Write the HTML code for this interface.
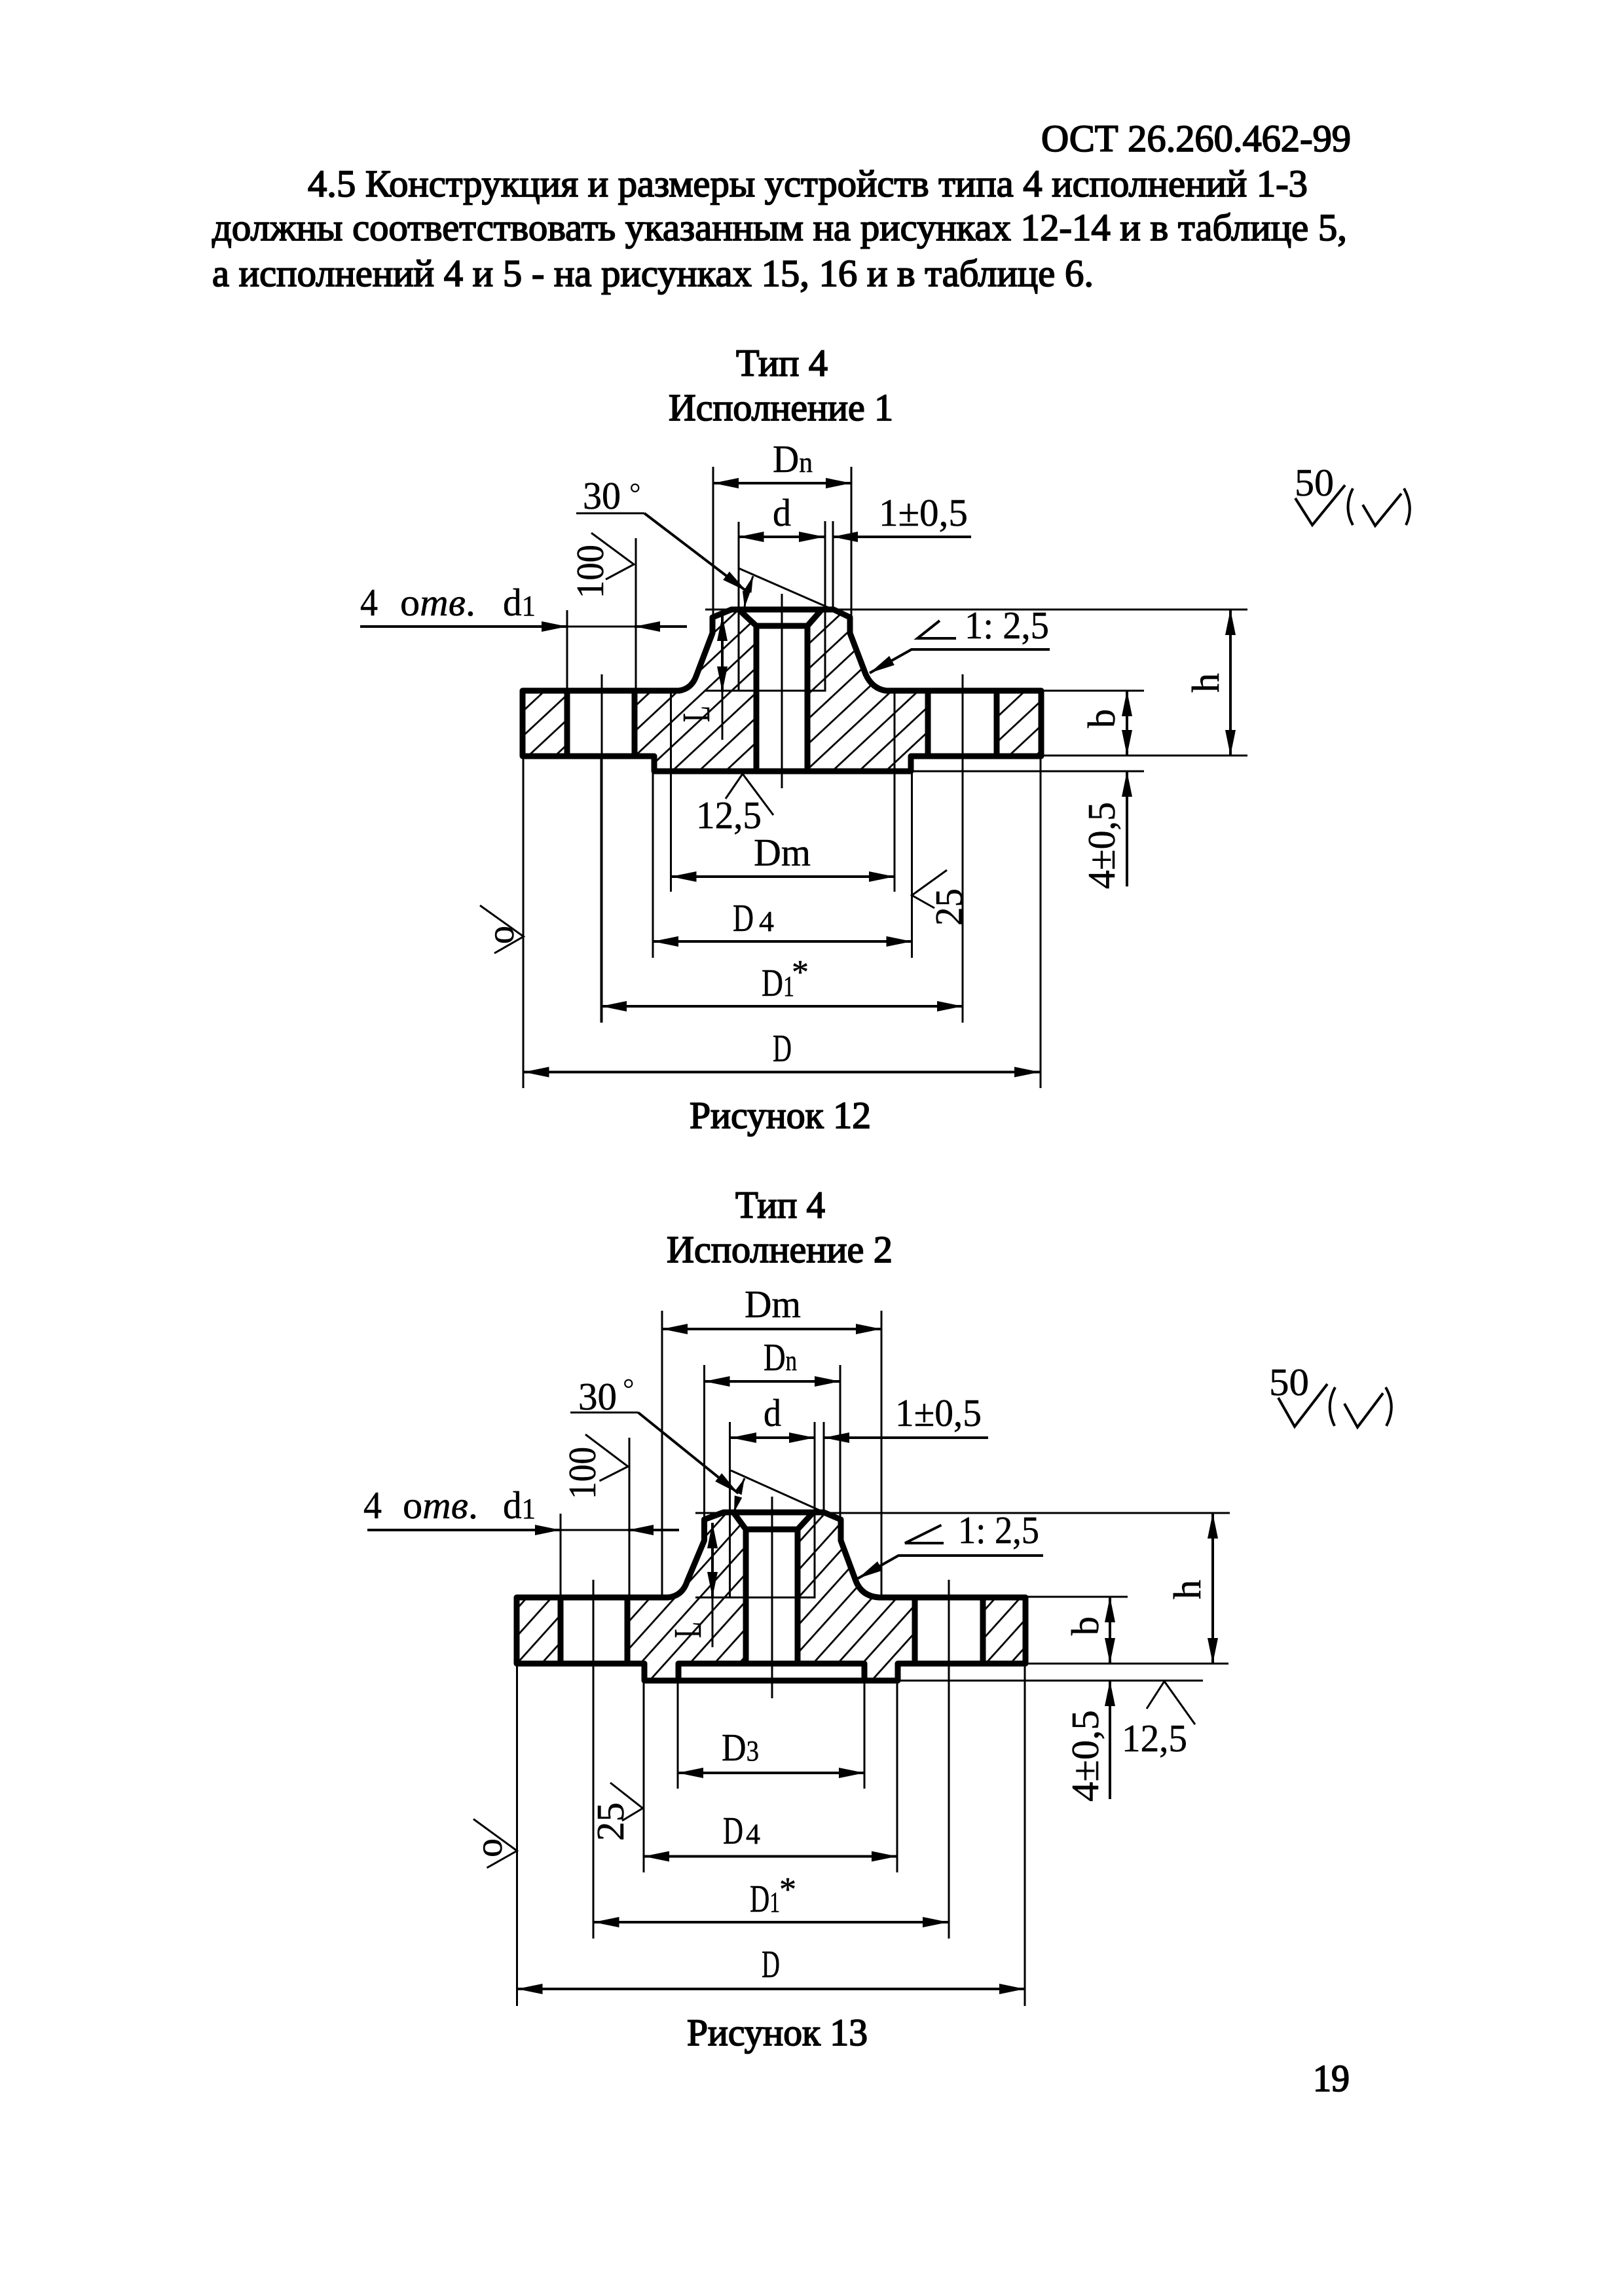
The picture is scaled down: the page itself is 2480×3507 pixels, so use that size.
<!DOCTYPE html>
<html lang="ru"><head><meta charset="utf-8"><title>ОСТ 26.260.462-99</title>
<style>
html,body{margin:0;padding:0;background:#fff}
svg{display:block}
text{font-family:"Liberation Serif",serif;fill:#000}
.b{font-size:58.5px;stroke:#000;stroke-width:1.8px}
.c{font-size:59px;stroke:#000;stroke-width:.5px}
.s{font-size:44px}
.k{font-size:52px;stroke:#000;stroke-width:.5px}
.o{fill:none;stroke:#000;stroke-width:9;stroke-linejoin:round}
.t{fill:none;stroke:#000;stroke-width:3}
.u{fill:none;stroke:#000;stroke-width:4}
.d{fill:none;stroke:#000;stroke-width:4;marker-start:url(#a);marker-end:url(#a)}
.e{fill:none;stroke:#000;stroke-width:4;marker-end:url(#a)}
.f{fill:none;stroke:#000;stroke-width:3;marker-end:url(#a2)}
</style></head><body>
<svg xmlns="http://www.w3.org/2000/svg" width="2480" height="3507" viewBox="0 0 2480 3507">
<defs>
<marker id="a" markerUnits="userSpaceOnUse" markerWidth="40" markerHeight="18" refX="39" refY="9" orient="auto-start-reverse"><path d="M0 1L39 9L0 17Z"/></marker>
<marker id="a2" markerUnits="userSpaceOnUse" markerWidth="26" markerHeight="14" refX="25" refY="6" orient="auto-start-reverse"><path d="M0 0L25 6L0 12Z"/></marker>
<pattern id="h1" patternUnits="userSpaceOnUse" width="100" height="27.8" patternTransform="translate(1155 980) rotate(-43)"><rect width="100" height="2.8"/></pattern>
<pattern id="h2" patternUnits="userSpaceOnUse" width="100" height="28" patternTransform="translate(1137 2362) rotate(-48)"><rect width="100" height="2.8"/></pattern>
</defs>
<rect width="2480" height="3507" fill="#fff"/>

<!-- body text -->
<text class="b" x="1590" y="231" textLength="473" lengthAdjust="spacingAndGlyphs">ОСТ 26.260.462-99</text>
<text class="b" x="470" y="300" textLength="1527" lengthAdjust="spacingAndGlyphs">4.5 Конструкция и размеры устройств типа 4 исполнений 1-3</text>
<text class="b" x="324" y="367" textLength="1733" lengthAdjust="spacingAndGlyphs">должны соответствовать указанным на рисунках 12-14 и в таблице 5,</text>
<text class="b" x="324" y="437" textLength="1346" lengthAdjust="spacingAndGlyphs">а исполнений 4 и 5 - на рисунках 15, 16 и в таблице 6.</text>
<text class="b" x="1124" y="574" textLength="140" lengthAdjust="spacingAndGlyphs">Тип 4</text>
<text class="b" x="1021" y="642" textLength="343" lengthAdjust="spacingAndGlyphs">Исполнение 1</text>
<text class="b" x="1053" y="1723" textLength="277" lengthAdjust="spacingAndGlyphs">Рисунок 12</text>
<text class="b" x="1123" y="1860" textLength="137" lengthAdjust="spacingAndGlyphs">Тип 4</text>
<text class="b" x="1018" y="1928" textLength="345" lengthAdjust="spacingAndGlyphs">Исполнение 2</text>
<text class="b" x="1049" y="3124" textLength="276" lengthAdjust="spacingAndGlyphs">Рисунок 13</text>
<text class="b" x="2005" y="3194" textLength="56" lengthAdjust="spacingAndGlyphs">19</text>

<!-- FIGURE 12 -->
<rect x="798" y="1055" width="68" height="100" fill="url(#h1)"/>
<rect x="1522" y="1055" width="68" height="100" fill="url(#h1)"/>
<path fill="url(#h1)" d="M969 1055H1037Q1056 1052 1063 1033L1088 967V943L1117 931H1128L1155 956V1178H999V1155H969Z"/>
<path fill="url(#h1)" d="M1233 956L1255 931H1273L1298 943V967L1322 1030Q1332 1052 1353 1055H1417V1155H1391V1178H1233Z"/>
<path class="o" d="M798 1155V1055H1037Q1056 1052 1063 1033L1088 967V943L1117 931H1273L1298 943V967L1322 1030Q1332 1052 1353 1055H1590V1155H1391V1178H999V1155Z"/>
<path class="o" d="M866 1055V1155M969 1055V1155M1417 1055V1155M1522 1055V1155M1155 1178V956H1233V1178M1128 931L1155 956M1233 956L1255 931"/>
<!-- thin lines -->
<path class="t" d="M1077 931H1905M1590 1055H1747M1590 1154H1905M1391 1178H1747M1077 1055H1260V796M1128 797V1055M1272 796V931M1089 713V943M1300 713V943M1194 907V1204M866 932V1055M971 822V1055M919 1030V1562M1470 1030V1561M1024.5 1055V1362M1366 1055V1362M997 1178V1463M1392.5 1178V1463M918 1155V1562M1470 1155V1562M799 1155V1662M1589 1155V1662"/>
<!-- dims -->
<path class="d" d="M1089 738H1300"/>
<path class="d" d="M1127.5 820H1259"/>
<path class="e" d="M1483 820H1271"/>
<path class="e" d="M550 957H866"/><path class="t" d="M866 957H971"/>
<path class="e" d="M1049 957H969"/>
<path class="d" d="M1024.5 1339H1366"/>
<path class="d" d="M997 1438H1392.5"/>
<path class="d" d="M918 1537H1470"/>
<path class="d" d="M799.5 1637.5H1588"/>
<path class="d" d="M1721 1055V1154"/>
<path class="e" d="M1721 1354V1178"/>
<path class="d" d="M1879 931V1154"/>
<path class="d" d="M1103 940V1057"/><path class="t" d="M1103 1057V1130"/>
<path class="t" d="M880 784H984"/>
<path class="e" d="M984 784L1140 903"/>
<path class="t" d="M1128 868L1265 928"/>
<path class="f" d="M1142 903L1150 880"/>
<path class="f" d="M1140 902L1137 928"/>
<path class="t" d="M903 814L968 862L925 885"/>
<path class="e" d="M1603 992H1392L1328 1028"/>
<path class="u" d="M1435 948L1401 975H1460"/>
<path class="t" d="M1108 1220L1134 1182L1181 1245"/>
<path class="t" d="M1446 1329L1392.5 1367.5L1427 1387"/>
<path class="t" d="M733 1383L799.5 1430.5L755 1456"/>
<!-- labels -->
<text class="c" x="1180" y="721" textLength="61" lengthAdjust="spacingAndGlyphs">D<tspan class="s">n</tspan></text>
<text class="c" x="1180" y="803" textLength="28" lengthAdjust="spacingAndGlyphs">d</text>
<text class="c" x="1342" y="803" textLength="136" lengthAdjust="spacingAndGlyphs">1±0,5</text>
<text class="c" x="890" y="777" textLength="58" lengthAdjust="spacingAndGlyphs">30</text>
<text class="s" x="961" y="768">°</text>
<text class="c" x="550" y="940" textLength="27" lengthAdjust="spacingAndGlyphs">4</text>
<text class="c" x="611" y="940" textLength="115" lengthAdjust="spacingAndGlyphs">о<tspan font-style="italic">тв</tspan>.</text>
<text class="c" x="768" y="940" textLength="50" lengthAdjust="spacingAndGlyphs">d<tspan class="s">1</tspan></text>
<text class="c" transform="translate(921 914) rotate(-90)" textLength="82" lengthAdjust="spacingAndGlyphs">100</text>
<text class="c" x="1473" y="975" textLength="129" lengthAdjust="spacingAndGlyphs">1: 2,5</text>
<text class="c" transform="translate(1083 1103) rotate(-90)" textLength="25" lengthAdjust="spacingAndGlyphs">L</text>
<text class="c" x="1063" y="1265" textLength="100" lengthAdjust="spacingAndGlyphs">12,5</text>
<text class="c" x="1151" y="1322" textLength="87" lengthAdjust="spacingAndGlyphs">Dm</text>
<text class="c" x="1119" y="1422" textLength="32" lengthAdjust="spacingAndGlyphs">D</text>
<text class="c s" x="1159" y="1422" textLength="23" lengthAdjust="spacingAndGlyphs">4</text>
<text class="c" x="1163" y="1521" textLength="50" lengthAdjust="spacingAndGlyphs">D<tspan class="s">1</tspan></text>
<text class="k" x="1209" y="1502">*</text>
<text class="c" x="1180" y="1621" textLength="29" lengthAdjust="spacingAndGlyphs">D</text>
<text class="c" transform="translate(1469 1414) rotate(-90)" textLength="57" lengthAdjust="spacingAndGlyphs">25</text>
<text class="c" transform="translate(784 1442) rotate(-90)" textLength="28" lengthAdjust="spacingAndGlyphs">о</text>
<text class="c" transform="translate(1702 1358) rotate(-90)" textLength="133" lengthAdjust="spacingAndGlyphs">4±0,5</text>
<text class="c" transform="translate(1702 1112) rotate(-90)" textLength="29" lengthAdjust="spacingAndGlyphs">b</text>
<text class="c" transform="translate(1861 1058) rotate(-90)" textLength="30" lengthAdjust="spacingAndGlyphs">h</text>
<text class="c" x="1977" y="757" textLength="60" lengthAdjust="spacingAndGlyphs">50</text>
<path class="u" d="M1978 761L2004 802L2054 741M2081 771L2100 803L2140 754M2066 746Q2051 775 2066 802M2144 746Q2160 775 2147 802"/>

<!-- FIGURE 13 -->
<rect x="789" y="2440" width="67" height="101" fill="url(#h2)"/>
<rect x="1501" y="2440" width="65" height="101" fill="url(#h2)"/>
<path fill="url(#h2)" d="M958 2440H1020Q1042 2438 1049.5 2415L1075.5 2353V2321L1105 2310H1120L1139 2336V2541H1036V2567H984V2541H958Z"/>
<path fill="url(#h2)" d="M1218 2336L1242 2310H1258L1284 2321V2353L1307 2415Q1316 2438 1342 2440H1397V2541H1371V2567H1320V2541H1218Z"/>
<path class="o" d="M789 2541V2440H1020Q1042 2438 1049.5 2415L1075.5 2353V2321L1105 2310H1258L1284 2321V2353L1307 2415Q1316 2438 1342 2440H1566V2541H1371V2567H984V2541Z"/>
<path class="o" d="M856 2440V2541M958 2440V2541M1397 2440V2541M1501 2440V2541M1139 2541V2336H1218V2541M1120 2310L1139 2336M1218 2336L1242 2310M1036 2567V2541H1320V2567"/>
<path class="t" d="M1062 2311H1878M1566 2439H1722M1566 2541H1876M1371 2567H1837M1062 2440H1244V2172M1114.5 2172V2440M1258 2172V2310M1075.5 2085V2321M1283 2085V2321M1179 2286V2594M856 2312V2440M961 2196V2440M906 2413V2961M1449 2413V2961M1011 2002V2440M1346 2002V2440M1035 2567V2732M1320 2567V2732M983 2567V2860M1370 2567V2860M789.5 2541V3064M1565 2541V3064"/>
<path class="d" d="M1011 2030H1346"/>
<path class="d" d="M1075.5 2110H1283"/>
<path class="d" d="M1116 2196H1244"/>
<path class="e" d="M1509 2196H1258"/>
<path class="e" d="M561 2337H856"/><path class="t" d="M856 2337H959"/>
<path class="e" d="M1037 2337H959"/>
<path class="d" d="M1035 2708H1320"/>
<path class="d" d="M983 2835.5H1370"/>
<path class="d" d="M906.5 2936H1448"/>
<path class="d" d="M789.5 3038H1565"/>
<path class="d" d="M1695 2439V2541"/>
<path class="e" d="M1695 2748V2567"/>
<path class="d" d="M1852 2311V2541"/>
<path class="d" d="M1088 2326V2440"/><path class="t" d="M1088 2440V2516"/>
<path class="t" d="M871 2157.5H974.5"/>
<path class="e" d="M974.5 2157.5L1127.5 2281"/>
<path class="t" d="M1116 2246L1254 2308"/>
<path class="f" d="M1127 2281L1137 2258"/>
<path class="f" d="M1127.5 2286L1121 2310"/>
<path class="t" d="M894 2191L959 2240L915.5 2262"/>
<path class="e" d="M1593 2376H1372L1310 2411"/>
<path class="u" d="M1437.5 2329.5L1382 2357H1441"/>
<path class="t" d="M1751 2610L1778 2568L1825 2634"/>
<path class="t" d="M932 2723L981.5 2762L950 2781"/>
<path class="t" d="M723 2778.5L789.5 2827L743.5 2853"/>
<text class="c" x="1137" y="2012" textLength="86" lengthAdjust="spacingAndGlyphs">Dm</text>
<text class="c" x="1166" y="2093" textLength="51" lengthAdjust="spacingAndGlyphs">D<tspan class="s">n</tspan></text>
<text class="c" x="1166" y="2178" textLength="27" lengthAdjust="spacingAndGlyphs">d</text>
<text class="c" x="1367" y="2178" textLength="132" lengthAdjust="spacingAndGlyphs">1±0,5</text>
<text class="c" x="883" y="2153" textLength="59" lengthAdjust="spacingAndGlyphs">30</text>
<text class="s" x="951" y="2136">°</text>
<text class="c" x="555" y="2319" textLength="28" lengthAdjust="spacingAndGlyphs">4</text>
<text class="c" x="615" y="2319" textLength="115" lengthAdjust="spacingAndGlyphs">о<tspan font-style="italic">тв</tspan>.</text>
<text class="c" x="768" y="2319" textLength="50" lengthAdjust="spacingAndGlyphs">d<tspan class="s">1</tspan></text>
<text class="c" transform="translate(909 2290) rotate(-90)" textLength="80" lengthAdjust="spacingAndGlyphs">100</text>
<text class="c" x="1463" y="2357" textLength="124" lengthAdjust="spacingAndGlyphs">1: 2,5</text>
<text class="c" transform="translate(1070 2502) rotate(-90)" textLength="25" lengthAdjust="spacingAndGlyphs">L</text>
<text class="c" x="1102" y="2689" textLength="57" lengthAdjust="spacingAndGlyphs">D<tspan class="s">3</tspan></text>
<text class="c" x="1104" y="2816" textLength="31" lengthAdjust="spacingAndGlyphs">D</text>
<text class="c s" x="1139" y="2816" textLength="22" lengthAdjust="spacingAndGlyphs">4</text>
<text class="c" x="1145" y="2920" textLength="46" lengthAdjust="spacingAndGlyphs">D<tspan class="s">1</tspan></text>
<text class="k" x="1190" y="2903">*</text>
<text class="c" x="1163" y="3020" textLength="28" lengthAdjust="spacingAndGlyphs">D</text>
<text class="c" transform="translate(952 2812) rotate(-90)" textLength="59" lengthAdjust="spacingAndGlyphs">25</text>
<text class="c" transform="translate(766 2837) rotate(-90)" textLength="29" lengthAdjust="spacingAndGlyphs">о</text>
<text class="c" x="1713" y="2675" textLength="100" lengthAdjust="spacingAndGlyphs">12,5</text>
<text class="c" transform="translate(1677 2752) rotate(-90)" textLength="140" lengthAdjust="spacingAndGlyphs">4±0,5</text>
<text class="c" transform="translate(1677 2498) rotate(-90)" textLength="29" lengthAdjust="spacingAndGlyphs">b</text>
<text class="c" transform="translate(1833 2443) rotate(-90)" textLength="30" lengthAdjust="spacingAndGlyphs">h</text>
<text class="c" x="1938" y="2131" textLength="61" lengthAdjust="spacingAndGlyphs">50</text>
<path class="u" d="M1952 2135L1977 2179L2027 2114M2053 2144L2073 2180L2112 2128M2039 2119Q2023 2148 2038 2178M2116 2119Q2133 2148 2117 2178"/>
</svg>
</body></html>
